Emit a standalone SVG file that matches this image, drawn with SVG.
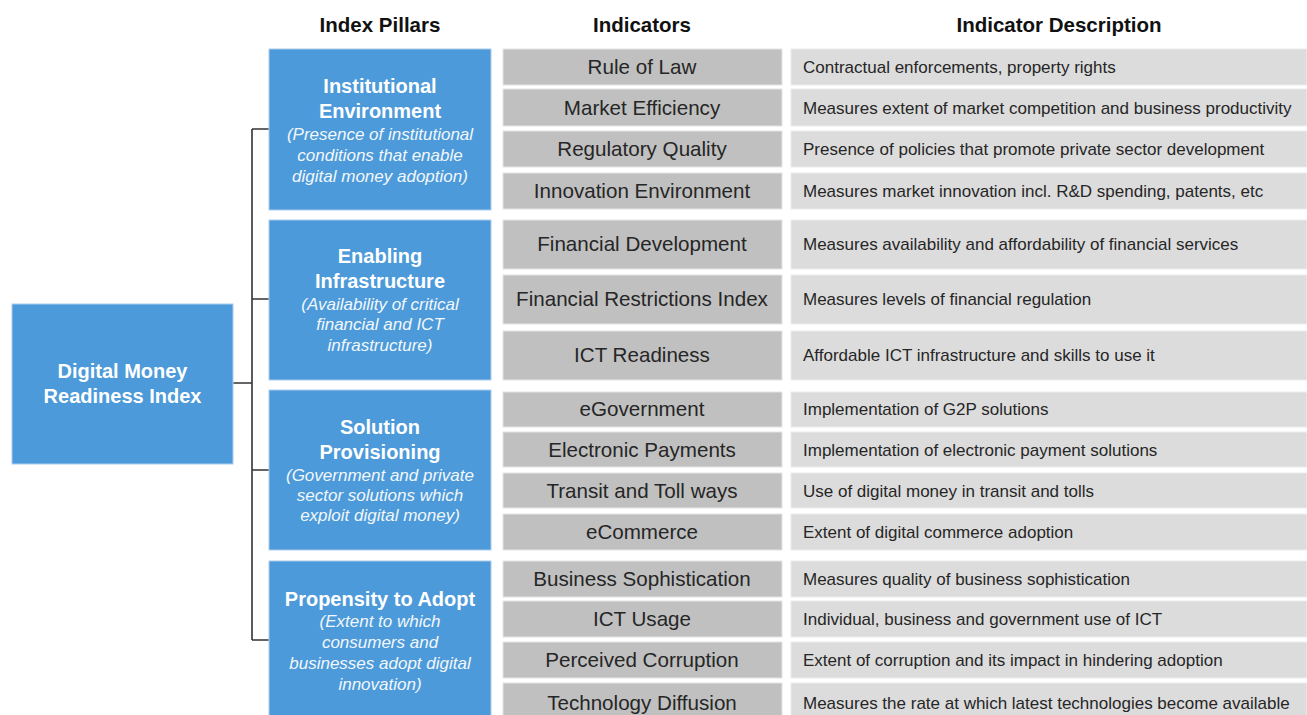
<svg xmlns="http://www.w3.org/2000/svg" width="1307" height="715" viewBox="0 0 1307 715">
<style>
.bg{fill:#ffffff}
.blue{fill:#4c9ad9;stroke:#a9cdee;stroke-width:1}
.ind{fill:#c0c0c0;stroke:#e4e4e4;stroke-width:1}
.desc{fill:#dcdcdc;stroke:#ececec;stroke-width:1}
.hdr{font-family:"Liberation Sans",Arial,sans-serif;font-weight:bold;font-size:20.5px;fill:#111;text-anchor:middle}
.ttl{font-family:"Liberation Sans",Arial,sans-serif;font-weight:bold;font-size:20px;fill:#ffffff;text-anchor:middle}
.sub{font-family:"Liberation Sans",Arial,sans-serif;font-style:italic;font-size:17px;fill:#f2f7fc;text-anchor:middle}
.it{font-family:"Liberation Sans",Arial,sans-serif;font-size:20.6px;fill:#262626;text-anchor:middle}
.dt{font-family:"Liberation Sans",Arial,sans-serif;font-size:17px;fill:#262626}
.conn{fill:none;stroke:#333333;stroke-width:1.6}
</style>
<rect class="bg" x="0" y="0" width="1307" height="715"/>
<g id="headers">
<text class="hdr" x="380" y="32">Index Pillars</text>
<text class="hdr" x="642" y="32">Indicators</text>
<text class="hdr" x="1059" y="32">Indicator Description</text>
</g>
<g id="connectors">
<path class="conn" d="M233 383 H252 M252 129 V640 M252 129 H269 M252 299 H269 M252 470 H269 M252 640 H269"/>
</g>
<g id="root">
<rect class="blue" x="12" y="304" width="221" height="160"/>
<text class="ttl" x="122.5" y="378">Digital Money</text>
<text class="ttl" x="122.5" y="403">Readiness Index</text>
</g>
<g id="pillar-institutional">
<rect class="blue" x="269" y="49" width="222" height="161"/>
<text class="ttl" x="380" y="93">Institutional</text>
<text class="ttl" x="380" y="118">Environment</text>
<text class="sub" x="380" y="140">(Presence of institutional</text>
<text class="sub" x="380" y="161">conditions that enable</text>
<text class="sub" x="380" y="182">digital money adoption)</text>
</g>
<g id="pillar-infrastructure">
<rect class="blue" x="269" y="220" width="222" height="160"/>
<text class="ttl" x="380" y="263">Enabling</text>
<text class="ttl" x="380" y="288">Infrastructure</text>
<text class="sub" x="380" y="310">(Availability of critical</text>
<text class="sub" x="380" y="330">financial and ICT</text>
<text class="sub" x="380" y="351">infrastructure)</text>
</g>
<g id="pillar-solution">
<rect class="blue" x="269" y="390" width="222" height="160"/>
<text class="ttl" x="380" y="434">Solution</text>
<text class="ttl" x="380" y="459">Provisioning</text>
<text class="sub" x="380" y="481">(Government and private</text>
<text class="sub" x="380" y="501">sector solutions which</text>
<text class="sub" x="380" y="521">exploit digital money)</text>
</g>
<g id="pillar-propensity">
<rect class="blue" x="269" y="561" width="222" height="160"/>
<text class="ttl" x="380" y="606">Propensity to Adopt</text>
<text class="sub" x="380" y="627">(Extent to which</text>
<text class="sub" x="380" y="648">consumers and</text>
<text class="sub" x="380" y="669">businesses adopt digital</text>
<text class="sub" x="380" y="690">innovation)</text>
</g>
<g id="ind-rule-of-law"><rect class="ind" x="503" y="49" width="279" height="36"/><text class="it" x="642" y="74">Rule of Law</text></g>
<g id="desc-rule-of-law"><rect class="desc" x="791" y="49" width="516" height="36"/><text class="dt" x="803" y="73">Contractual enforcements, property rights</text></g>
<g id="ind-market-efficiency"><rect class="ind" x="503" y="89" width="279" height="37"/><text class="it" x="642" y="115">Market Efficiency</text></g>
<g id="desc-market-efficiency"><rect class="desc" x="791" y="89" width="516" height="37"/><text class="dt" x="803" y="114">Measures extent of market competition and business productivity</text></g>
<g id="ind-regulatory-quality"><rect class="ind" x="503" y="131" width="279" height="36"/><text class="it" x="642" y="156">Regulatory Quality</text></g>
<g id="desc-regulatory-quality"><rect class="desc" x="791" y="131" width="516" height="36"/><text class="dt" x="803" y="155">Presence of policies that promote private sector development</text></g>
<g id="ind-innovation-environment"><rect class="ind" x="503" y="173" width="279" height="36"/><text class="it" x="642" y="198">Innovation Environment</text></g>
<g id="desc-innovation-environment"><rect class="desc" x="791" y="173" width="516" height="36"/><text class="dt" x="803" y="197">Measures market innovation incl. R&amp;D spending, patents, etc</text></g>
<g id="ind-financial-development"><rect class="ind" x="503" y="220" width="279" height="49"/><text class="it" x="642" y="251">Financial Development</text></g>
<g id="desc-financial-development"><rect class="desc" x="791" y="220" width="516" height="49"/><text class="dt" x="803" y="250">Measures availability and affordability of financial services</text></g>
<g id="ind-financial-restrictions"><rect class="ind" x="503" y="275" width="279" height="49"/><text class="it" x="642" y="306">Financial Restrictions Index</text></g>
<g id="desc-financial-restrictions"><rect class="desc" x="791" y="275" width="516" height="49"/><text class="dt" x="803" y="305">Measures levels of financial regulation</text></g>
<g id="ind-ict-readiness"><rect class="ind" x="503" y="331" width="279" height="49"/><text class="it" x="642" y="362">ICT Readiness</text></g>
<g id="desc-ict-readiness"><rect class="desc" x="791" y="331" width="516" height="49"/><text class="dt" x="803" y="361">Affordable ICT infrastructure and skills to use it</text></g>
<g id="ind-egovernment"><rect class="ind" x="503" y="392" width="279" height="35"/><text class="it" x="642" y="416">eGovernment</text></g>
<g id="desc-egovernment"><rect class="desc" x="791" y="392" width="516" height="35"/><text class="dt" x="803" y="415">Implementation of G2P solutions</text></g>
<g id="ind-electronic-payments"><rect class="ind" x="503" y="432" width="279" height="35"/><text class="it" x="642" y="457">Electronic Payments</text></g>
<g id="desc-electronic-payments"><rect class="desc" x="791" y="432" width="516" height="35"/><text class="dt" x="803" y="456">Implementation of electronic payment solutions</text></g>
<g id="ind-transit-toll"><rect class="ind" x="503" y="473" width="279" height="35"/><text class="it" x="642" y="498">Transit and Toll ways</text></g>
<g id="desc-transit-toll"><rect class="desc" x="791" y="473" width="516" height="35"/><text class="dt" x="803" y="497">Use of digital money in transit and tolls</text></g>
<g id="ind-ecommerce"><rect class="ind" x="503" y="514" width="279" height="36"/><text class="it" x="642" y="539">eCommerce</text></g>
<g id="desc-ecommerce"><rect class="desc" x="791" y="514" width="516" height="36"/><text class="dt" x="803" y="538">Extent of digital commerce adoption</text></g>
<g id="ind-business-sophistication"><rect class="ind" x="503" y="561" width="279" height="36"/><text class="it" x="642" y="586">Business Sophistication</text></g>
<g id="desc-business-sophistication"><rect class="desc" x="791" y="561" width="516" height="36"/><text class="dt" x="803" y="585">Measures quality of business sophistication</text></g>
<g id="ind-ict-usage"><rect class="ind" x="503" y="601" width="279" height="36"/><text class="it" x="642" y="626">ICT Usage</text></g>
<g id="desc-ict-usage"><rect class="desc" x="791" y="601" width="516" height="36"/><text class="dt" x="803" y="625">Individual, business and government use of ICT</text></g>
<g id="ind-perceived-corruption"><rect class="ind" x="503" y="642" width="279" height="36"/><text class="it" x="642" y="667">Perceived Corruption</text></g>
<g id="desc-perceived-corruption"><rect class="desc" x="791" y="642" width="516" height="36"/><text class="dt" x="803" y="666">Extent of corruption and its impact in hindering adoption</text></g>
<g id="ind-technology-diffusion"><rect class="ind" x="503" y="683" width="279" height="40"/><text class="it" x="642" y="710">Technology Diffusion</text></g>
<g id="desc-technology-diffusion"><rect class="desc" x="791" y="683" width="516" height="40"/><text class="dt" x="803" y="709">Measures the rate at which latest technologies become available</text></g>
</svg>
